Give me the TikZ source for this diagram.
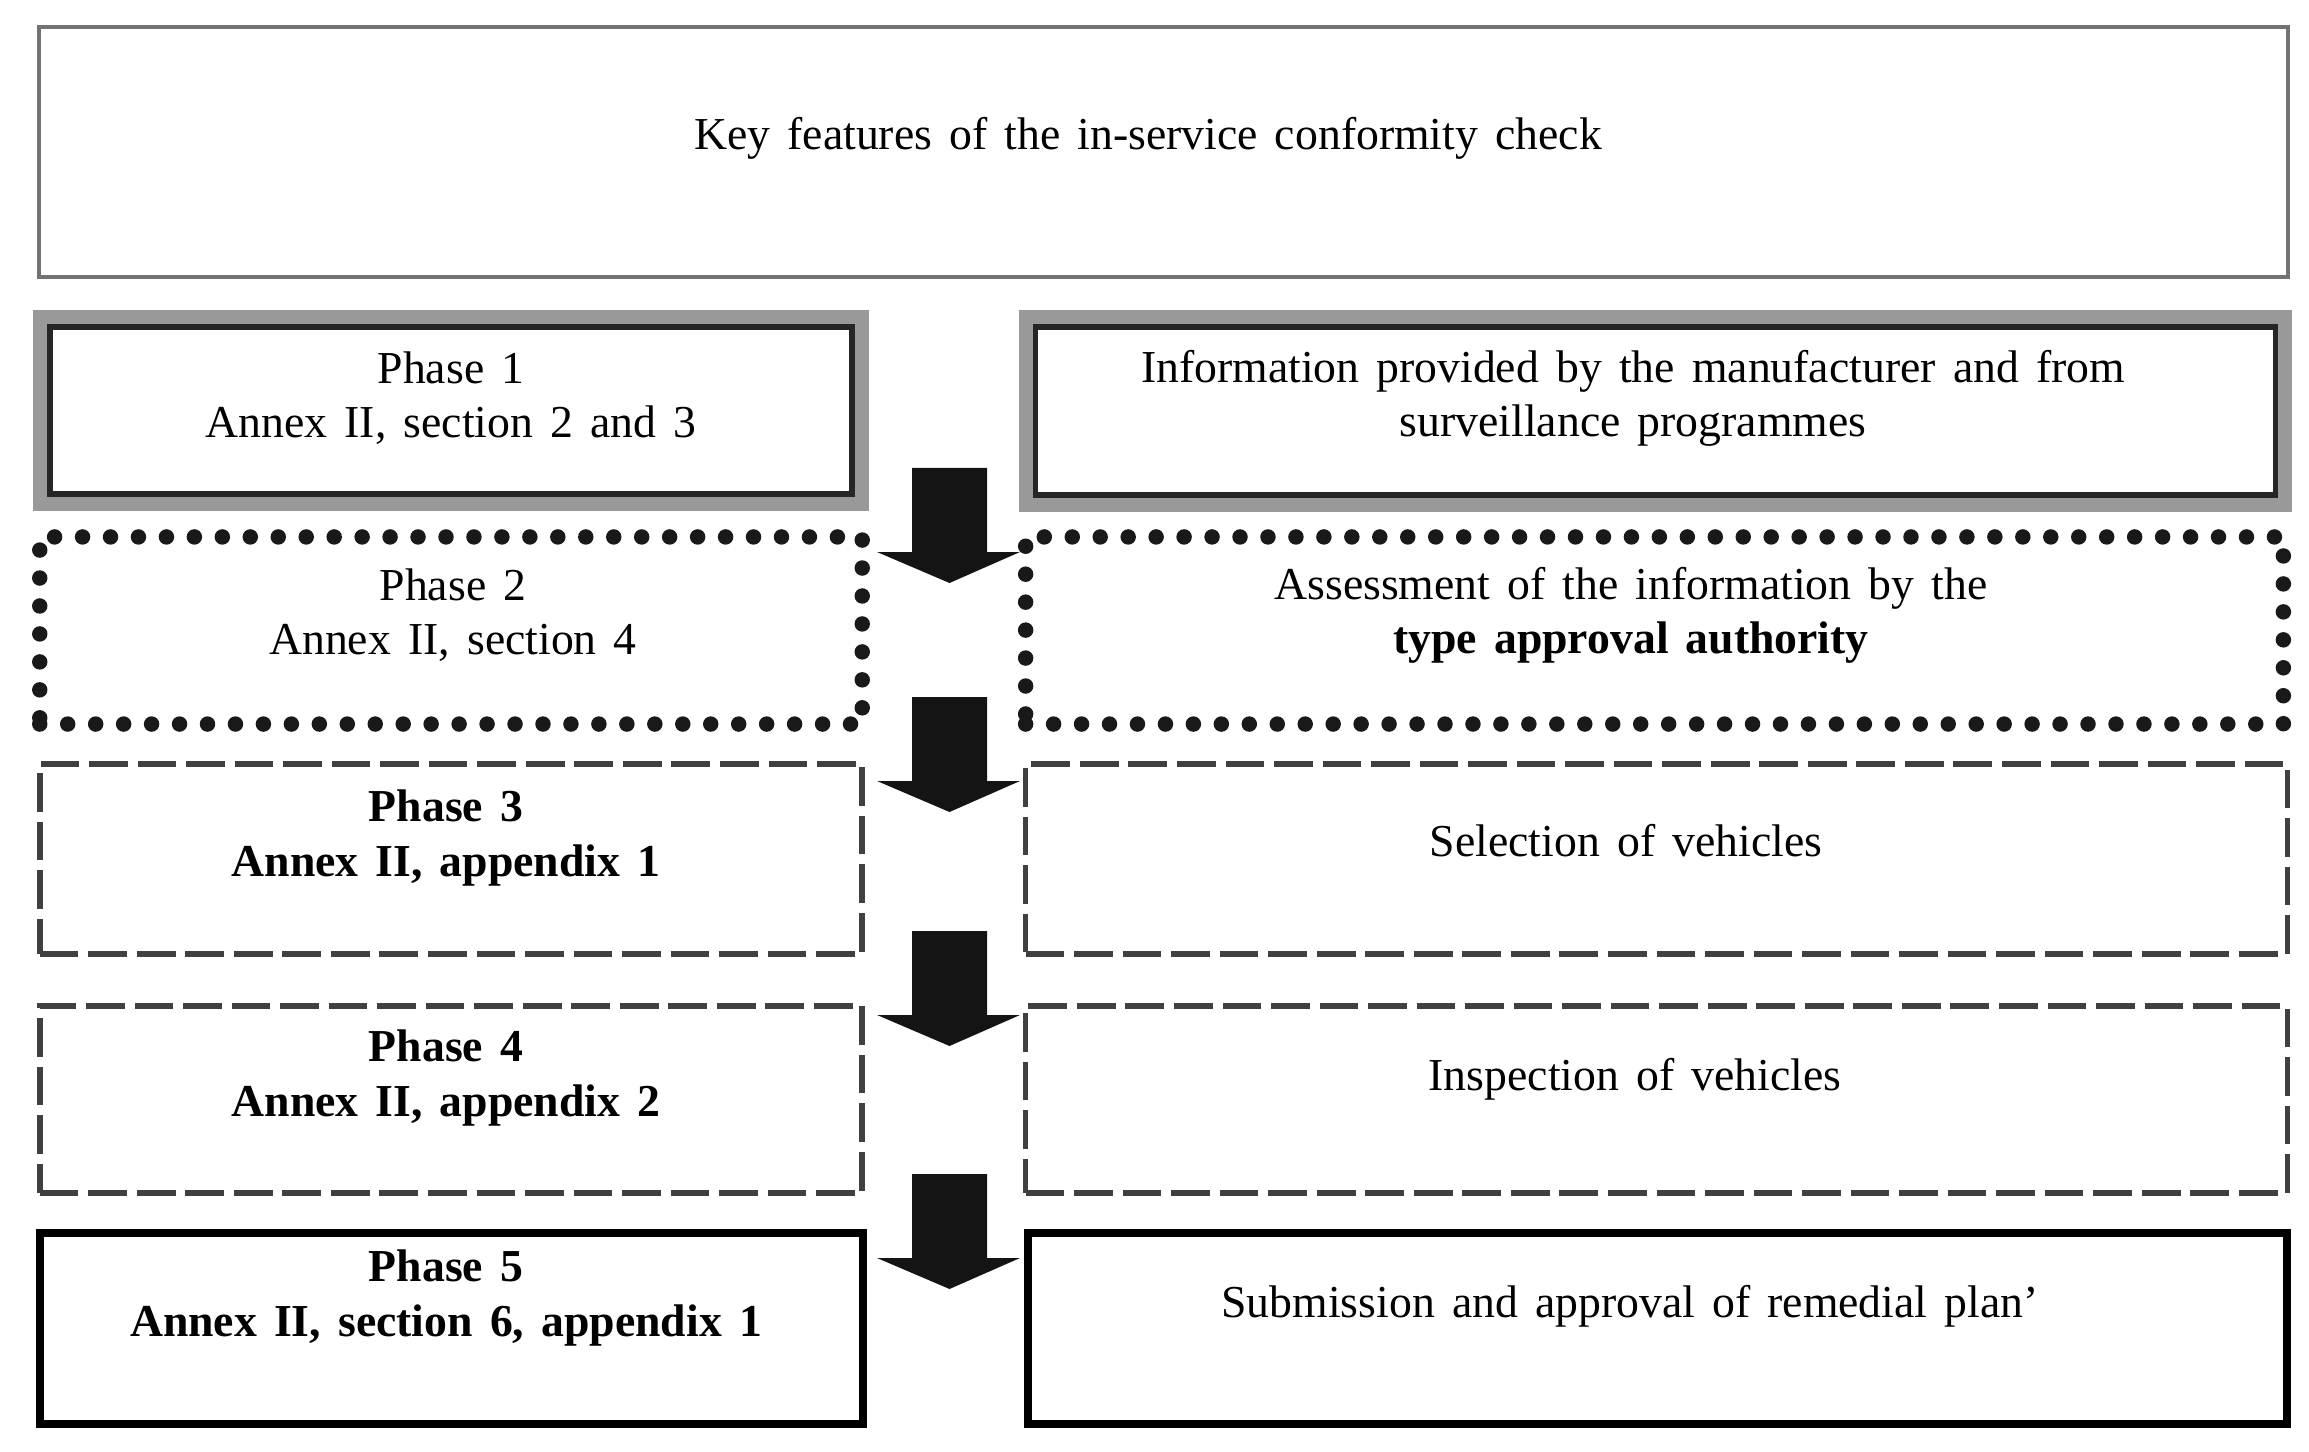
\documentclass[tikz,border=0pt]{standalone}
\usepackage{fontspec}
\setmainfont{Liberation Serif}[WordSpace=1.5]
\usepackage{tikz}
\usetikzlibrary{calc,positioning}
\definecolor{framecol}{gray}{0.6}
\definecolor{dotcol}{gray}{0.1}
\definecolor{dashcol}{gray}{0.25}
\definecolor{arrowcol}{gray}{0.08}
\tikzset{
  cell/.style={rectangle,inner sep=0pt,outer sep=0pt},
  headbox/.style={cell,draw=black!55,line width=1.2pt},
  ringbox/.style={cell,draw=framecol,line width=4.6pt},
  innerring/.style={draw=black!85,line width=1.6pt},
  dotbox/.style={cell,draw=dotcol,line width=4.4pt,line cap=round,dash pattern=on 0pt off 7.95pt},
  dashbox/.style={cell,draw=dashcol,line width=1.6pt,dash pattern=on 11pt off 2.8pt},
  solidbox/.style={cell,draw=black,line width=2.3pt},
  lbl/.style={font=\fontsize{13}{15.4}\selectfont,align=center,inner sep=0pt},
  blockarrow/.style={fill=arrowcol},
}
\begin{document}
\begin{tikzpicture}[x=0.01cm,y=-0.01cm]
\useasboundingbox (0,0) rectangle (2309,1452);
% header
\node[headbox,minimum width=22.47cm,minimum height=2.50cm] (head) at (1163.5,152) {};
\node[lbl] (headt) at (1148,138) {Key features of the in-service conformity check};
% phase 1 (double frame)
\node[ringbox,minimum width=8.20cm,minimum height=1.85cm] (ph1) at (451,410.5) {};
\node[ringbox,minimum width=12.57cm,minimum height=1.86cm] (inf1) at (1655.5,411) {};
\draw[innerring] ([shift={(9,9)}]ph1.north west) rectangle ([shift={(-9,-9)}]ph1.south east);
\draw[innerring] ([shift={(9,9)}]inf1.north west) rectangle ([shift={(-9,-9)}]inf1.south east);
\node[lbl] (ph1t) at (451,398) {Phase 1\\Annex II, section 2 and 3};
\node[lbl] (inf1t) at (1633,398) {Information provided by the manufacturer and from\\surveillance programmes};
% phase 2 (dots)
\node[dotbox,minimum width=8.22cm,minimum height=1.87cm] (ph2) at (451,630.5) {};
\node[dotbox,minimum width=12.57cm,minimum height=1.87cm] (as2) at (1654.5,630.5) {};
\node[lbl] (ph2t) at (453,615) {Phase 2\\Annex II, section 4};
\node[lbl] (as2t) at (1631,615) {Assessment of the information by the\\\textbf{type approval authority}};
% phase 3 and 4 (dashes)
\node[dashbox,minimum width=8.22cm,minimum height=1.90cm] (ph3) at (451,859) {};
\node[dashbox,minimum width=12.61cm,minimum height=1.90cm] (sel3) at (1656.5,859) {};
\node[lbl,font=\fontsize{13}{15.4}\selectfont\bfseries] (ph3t) at (446,838) {Phase 3\\Annex II, appendix 1};
\node[lbl] (sel3t) at (1626,841) {Selection of vehicles};
\node[dashbox,minimum width=8.22cm,minimum height=1.87cm] (ph4) at (451,1099.5) {};
\node[dashbox,minimum width=12.61cm,minimum height=1.87cm] (ins4) at (1656.5,1099.5) {};
\node[lbl,font=\fontsize{13}{15.4}\selectfont\bfseries] (ph4t) at (446,1078) {Phase 4\\Annex II, appendix 2};
\node[lbl] (ins4t) at (1635,1079) {Inspection of vehicles};
% phase 5 (solid)
\node[solidbox,minimum width=8.23cm,minimum height=1.91cm] (ph5) at (451.5,1328.5) {};
\node[solidbox,minimum width=12.59cm,minimum height=1.91cm] (rem5) at (1657.5,1328.5) {};
\node[lbl,font=\fontsize{13}{15.4}\selectfont\bfseries] (ph5t) at (446,1298) {Phase 5\\Annex II, section 6, appendix 1};
\node[lbl] (rem5t) at (1630,1306) {Submission and approval of remedial plan’};
% block arrows between the columns
\foreach \t in {468,697,931,1174}{
  \fill[blockarrow] (912,\t) -- (987,\t) -- (987,\t+84) -- (1020,\t+84)
    -- (949.5,\t+115) -- (877,\t+84) -- (912,\t+84) -- cycle;
}
\end{tikzpicture}
\end{document}
